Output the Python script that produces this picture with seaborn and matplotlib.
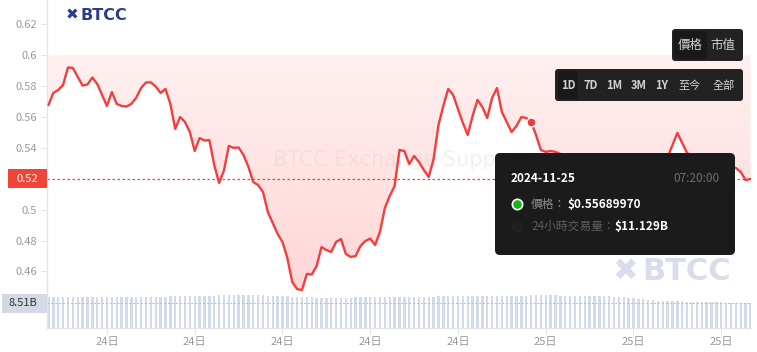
import numpy as np
import pandas as pd
import matplotlib
matplotlib.use('Agg')
import matplotlib.pyplot as plt
from matplotlib.patches import FancyBboxPatch
from matplotlib.colors import LinearSegmentedColormap
import seaborn as sns

# 10-minute samples, 24日 07:00 -> 25日 07:00
price = [
    0.5678, 0.5756, 0.5775, 0.5808, 0.5921, 0.5918, 0.5860, 0.5804, 0.5811, 0.5856,
    0.5814, 0.5743, 0.5672, 0.5762, 0.5685, 0.5672, 0.5668, 0.5685, 0.5725, 0.5788,
    0.5824, 0.5824, 0.5798, 0.5756, 0.5782, 0.5685, 0.5523, 0.5600, 0.5568, 0.5503,
    0.5380, 0.5464, 0.5448, 0.5451, 0.5290, 0.5173, 0.5254, 0.5413, 0.5400, 0.5403,
    0.5354, 0.5279, 0.5179, 0.5160, 0.5115, 0.4985, 0.4914, 0.4843, 0.4791, 0.4687,
    0.4532, 0.4486, 0.4480, 0.4584, 0.4580, 0.4635, 0.4758, 0.4739, 0.4726, 0.4791,
    0.4810, 0.4713, 0.4694, 0.4700, 0.4765, 0.4797, 0.4813, 0.4771, 0.4856, 0.5011,
    0.5089, 0.5153, 0.5387, 0.5380, 0.5296, 0.5348, 0.5309, 0.5257, 0.5212, 0.5328,
    0.5549, 0.5672, 0.5782, 0.5743, 0.5652, 0.5562, 0.5484, 0.5607, 0.5711, 0.5665,
    0.5594, 0.5723, 0.5788, 0.5633, 0.5568, 0.5503, 0.5542, 0.5600, 0.5594, 0.5569,
    0.5484, 0.5387, 0.5374, 0.5380, 0.5374, 0.5361, 0.5341, 0.5322, 0.5315, 0.5302,
    0.5290, 0.5310, 0.5325, 0.5300, 0.5285, 0.5270, 0.5262, 0.5250, 0.5272, 0.5260,
    0.5248, 0.5240, 0.5262, 0.5280, 0.5276, 0.5298, 0.5312, 0.5338, 0.5419, 0.5497,
    0.5432, 0.5367, 0.5345, 0.5326, 0.5330, 0.5312, 0.5305, 0.5292, 0.5288, 0.5280,
    0.5277, 0.5270, 0.5244, 0.5192, 0.5199,
]
# 24h volume in billions
volume = [
    10.62, 10.60, 10.61, 10.58, 10.60, 10.62, 10.63, 10.61, 10.60, 10.58,
    10.57, 10.59, 10.60, 10.62, 10.61, 10.60, 10.58, 10.57, 10.58, 10.60,
    10.61, 10.60, 10.62,
    10.65, 10.70, 10.78, 10.85, 10.90, 10.92, 10.95, 10.97, 11.00, 11.03,
    11.05, 11.10, 11.15, 11.20, 11.22, 11.25, 11.28, 11.30,
    11.30, 11.28, 11.25, 11.20, 11.12, 11.05, 10.95, 10.85, 10.78, 10.70, 10.62, 10.55,
    10.50, 10.45, 10.42, 10.40, 10.38, 10.40, 10.42, 10.40, 10.38, 10.42,
    10.45, 10.44, 10.46, 10.48, 10.50, 10.52, 10.55, 10.56, 10.58, 10.60,
    10.62, 10.63, 10.65, 10.68, 10.70, 10.72, 10.75, 10.78, 10.80, 10.85, 10.88,
    10.90, 10.92, 10.95, 10.96, 10.98, 11.00, 11.00, 11.02, 11.03, 11.05,
    11.06, 11.08, 11.10, 11.11, 11.12, 11.13,
    11.15, 11.18, 11.20, 11.18, 11.15, 11.12, 11.10, 11.08, 11.05, 11.02, 11.00, 10.98,
    10.95, 10.90, 10.85, 10.80, 10.72, 10.65, 10.55,
    10.40, 10.25, 10.05, 9.85, 9.65, 9.45,
    9.30, 9.22, 9.15, 9.10, 9.08, 9.05, 9.02, 9.00, 8.95, 8.90,
    8.85, 8.80, 8.76, 8.72, 8.68, 8.64, 8.60, 8.57, 8.54, 8.51,
]
hours = np.arange(len(price)) / 6

tick_hours = [2, 5, 8, 11, 14, 17, 20, 23]
tick_labels = ['24日', '24日', '24日', '24日', '24日', '25日', '25日', '25日']
y_ticks = [0.46, 0.48, 0.5, 0.54, 0.56, 0.58, 0.6, 0.62]
y_tick_labels = ['0.46', '0.48', '0.5', '0.54', '0.56', '0.58', '0.6', '0.62']
last_price = 0.52
last_price_label = '0.52'
last_volume = 8.51
last_volume_label = '8.51B'
hover_idx = 99
hover_date = '2024-11-25'
hover_time = '07:20:00'
hover_price = '$0.55689970'
hover_volume = '$11.129B'
price_buttons = ['價格', '市值']
range_buttons = ['1D', '7D', '1M', '3M', '1Y', '至今', '全部']

df = pd.DataFrame({'hour': hours, 'price': price, 'volume': volume})

sns.set_style('white')
plt.rcParams['font.family'] = ['Noto Sans CJK TC', 'DejaVu Sans']

W, H = 757, 352
fig = plt.figure(figsize=(W / 100, H / 100), dpi=100)


def rect(l, t, r, b):
    return [l / W, 1 - b / H, (r - l) / W, (b - t) / H]


grid_col = '#e4e4e4'
lab_col = '#9a9a9a'

# volume panel
ax_vol = fig.add_axes(rect(47, 280, 750.5, 327.5))
ax_vol.patch.set_alpha(0)
ax_vol.bar(df['hour'], df['volume'], width=0.08, color='#d3dae9', linewidth=0)
ax_vol.axhline(last_volume, color='#b3bccf', lw=0.7, ls=(0, (2, 2)))
ax_vol.set_xlim(-0.05, 24.0)
ax_vol.set_ylim(0, 16.51)
ax_vol.set_yticks([])
ax_vol.set_xticks(tick_hours, tick_labels)
ax_vol.tick_params(axis='x', bottom=True, length=4, color=grid_col,
                   labelcolor=lab_col, labelsize=8, pad=3)
for s in ['top', 'right']:
    ax_vol.spines[s].set_visible(False)
for s in ['left', 'bottom']:
    ax_vol.spines[s].set_color(grid_col)
    ax_vol.spines[s].set_linewidth(0.9)

# price panel
ax = fig.add_axes(rect(47, 0, 750.5, 295))
ax.patch.set_alpha(0)
poly = ax.fill_between(df['hour'], df['price'], 0.6, facecolor='none', edgecolor='none')
grad = np.linspace(0, 1, 256).reshape(-1, 1)
cmap = LinearSegmentedColormap.from_list('pink', ['#fff0f0', '#ffd6d6'])
im = ax.imshow(grad, extent=(hours[0], hours[-1], 0.445, 0.6), origin='upper',
               aspect='auto', cmap=cmap, zorder=1, interpolation='bilinear')
im.set_clip_path(poly.get_paths()[0], transform=ax.transData)

sns.lineplot(data=df, x='hour', y='price', ax=ax, color='#f53d3d', linewidth=1.7, zorder=3)
ax.axhline(last_price, color='#f24444', lw=0.9, ls=(0, (2, 2)), zorder=2)
ax.scatter([hours[hover_idx]], [price[hover_idx]], s=42, color='#ef3b3b',
           edgecolor='white', linewidth=1, zorder=5)

ax.set_xlim(-0.05, 24.0)
ax.set_ylim(0.44476, 0.6358)
ax.set_xticks([])
ax.set_yticks(y_ticks, y_tick_labels)
ax.tick_params(axis='y', left=True, length=4, color=grid_col,
               labelcolor=lab_col, labelsize=8, pad=3)
ax.set_xlabel('')
ax.set_ylabel('')
for s in ['top', 'right', 'bottom']:
    ax.spines[s].set_visible(False)
ax.spines['left'].set_color(grid_col)
ax.spines['left'].set_linewidth(0.9)

# overlay in pixel coordinates
ov = fig.add_axes([0, 0, 1, 1], zorder=10)
ov.set_xlim(0, W)
ov.set_ylim(H, 0)
ov.axis('off')
ov.patch.set_alpha(0)

ax.text(273, 160, 'BTCC Exchange Support', transform=ov.transData, fontsize=15,
        color='#e8c8c8', alpha=0.3, ha='left', va='center', zorder=2, family='DejaVu Sans')

# logo
ov.text(72, 15, '✖', fontsize=11, color='#2d3c8e', ha='center', va='center',
        family='DejaVu Sans')
ov.text(81, 15.5, 'BTCC', fontsize=11.5, color='#2d3c8e', ha='left', va='center',
        fontweight='bold', family='DejaVu Sans')
ov.text(625, 271, '✖', fontsize=22, color='#d9ddeb', ha='center', va='center',
        family='DejaVu Sans')
ov.text(642, 272, 'BTCC', fontsize=22, color='#d9ddeb', ha='left', va='center',
        fontweight='bold', family='DejaVu Sans')

# axis value boxes
ov.add_patch(plt.Rectangle((8, 169), 39, 19, color='#f04438', lw=0))
ov.text(27.5, 178.5, last_price_label, fontsize=8, color='white', ha='center', va='center')
ov.add_patch(plt.Rectangle((2, 294), 45, 18.5, color='#d3d9e5', lw=0))
ov.text(23, 303.5, last_volume_label, fontsize=8, color='#333333', ha='center', va='center')

# buttons
ov.add_patch(FancyBboxPatch((672, 29), 71, 32, boxstyle='round,pad=0,rounding_size=3',
                            fc='#222222', ec='none'))
ov.add_patch(FancyBboxPatch((674, 31), 33, 28, boxstyle='round,pad=0,rounding_size=2',
                            fc='#191919', ec='none'))
for x, t in zip([690, 723], price_buttons):
    ov.text(x, 45, t, fontsize=9, color='#d2d2d2', ha='center', va='center')

ov.add_patch(FancyBboxPatch((555, 69), 188, 32, boxstyle='round,pad=0,rounding_size=3',
                            fc='#222222', ec='none'))
ov.add_patch(FancyBboxPatch((558, 71), 20, 28, boxstyle='round,pad=0,rounding_size=2',
                            fc='#191919', ec='none'))
for x, t in zip([568, 591, 614, 639, 662, 690, 724], range_buttons):
    ov.text(x, 85.5, t, fontsize=8, color='#d2d2d2', ha='center', va='center',
            fontweight='bold' if t.isascii() else 'normal')

# tooltip
ov.add_patch(FancyBboxPatch((495, 153), 240, 102, boxstyle='round,pad=0,rounding_size=5',
                            fc='#1b1b1b', ec='none'))
ov.text(511, 178.5, hover_date, fontsize=8.5, color='white', ha='left', va='center',
        fontweight='bold')
ov.text(719, 178.5, hover_time, fontsize=8.5, color='#6f6f6f', ha='right', va='center')
ov.scatter([517], [204], s=55, color='#19b31d', edgecolor='white', linewidth=1.2)
ov.text(531, 204, '價格：', fontsize=8.5, color='#8c8c8c', ha='left', va='center')
ov.text(567, 204, hover_price, fontsize=8.5, color='white', ha='left', va='center',
        fontweight='bold')
ov.scatter([517], [226], s=55, color='#1f1f1f', edgecolor='#232323', linewidth=1)
ov.text(531, 226, '24小時交易量：', fontsize=8.5, color='#5e5e5e', ha='left', va='center')
ov.text(614, 226, hover_volume, fontsize=8.5, color='white', ha='left', va='center',
        fontweight='bold')

fig.savefig('out.png', dpi=100)
